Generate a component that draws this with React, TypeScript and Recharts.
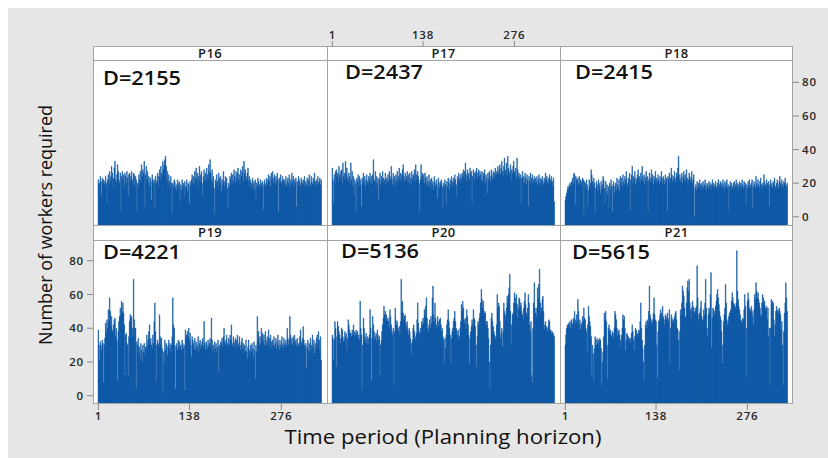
import React from 'react';
import { BarChart, Bar, XAxis, YAxis } from 'recharts';

// ---- categories / ticks / labels ----
const periods: number[] = Array.from({ length: 336 }, (_, i) => i + 1);
const xTicks = [1, 138, 276];
const yTicks = [0, 20, 40, 60, 80];
const panelNames = ['P16', 'P17', 'P18', 'P19', 'P20', 'P21'];
const demandLabels = ['D=2155', 'D=2437', 'D=2415', 'D=4221', 'D=5136', 'D=5615'];

// ---- series values (workers required per period) ----
const p16 = [
  22,19,20,24,21,13,23,20,22,19,21,24,20,8,22,25,19,27,21,24,30,26,18,23,29,33,22,20,
  25,31,27,22,20,26,3,24,27,22,25,18,26,24,20,27,23,12,25,26,21,24,27,22,19,26,25,18,
  24,22,3,20,18,25,22,27,20,31,24,28,26,33,6,25,30,22,27,20,24,18,23,21,10,25,22,20,
  22,5,24,20,21,26,18,24,28,22,30,26,24,33,28,31,34,36,30,22,27,19,25,21,17,24,20,2,
  20,18,22,21,17,19,15,22,20,17,21,9,19,16,22,18,20,12,21,18,17,22,15,20,19,8,21,18,
  22,25,20,24,19,27,23,29,22,26,18,24,30,21,25,27,20,12,24,28,22,26,21,29,25,23,31,27,
  34,26,22,28,20,24,17,2,22,19,25,21,18,26,23,20,24,15,22,19,27,21,18,24,20,23,17,5,
  20,18,24,22,26,19,25,21,28,24,20,27,23,26,29,22,25,19,28,24,27,30,21,33,26,28,24,22,
  26,29,21,24,18,22,20,17,23,19,21,16,22,10,20,18,23,21,19,17,22,20,18,21,4,19,22,18,
  20,23,19,22,25,21,24,18,26,22,27,20,23,25,19,24,21,26,22,3,23,20,25,21,19,24,22,20,
  22,19,24,18,21,23,20,25,17,22,19,26,21,24,18,22,20,23,6,21,19,24,22,20,18,23,21,19,
  22,20,24,18,21,19,23,17,22,25,20,18,24,21,19,23,20,26,21,18,22,19,24,20,21,23,19,22,
];
const p17 = [
  29,22,8,25,20,27,28,24,26,21,30,25,23,27,28,20,32,24,26,22,33,25,29,23,21,26,24,20,
  32,22,27,18,24,13,22,20,3,23,21,25,18,24,22,19,6,23,21,26,20,24,18,22,25,21,19,24,
  22,26,20,24,19,25,34,22,21,27,18,24,20,23,10,22,26,19,24,21,27,23,20,22,26,19,23,21,
  25,21,27,24,22,30,23,19,26,21,24,18,25,22,27,20,24,29,22,26,21,25,28,31,24,21,26,22,
  24,27,21,25,20,26,23,19,27,22,25,24,28,21,31,25,22,27,24,20,3,22,31,24,26,22,25,20,
  26,23,19,24,21,18,25,20,22,17,23,19,21,16,24,20,18,22,19,11,23,20,17,21,19,22,18,5,
  20,17,22,19,8,21,18,23,20,16,22,19,24,21,18,23,20,25,22,19,12,24,21,26,23,20,25,22,
  26,24,28,23,27,32,25,21,28,24,26,22,29,25,27,8,24,28,26,22,27,25,29,23,26,28,24,27,
  25,22,27,21,26,24,28,20,25,23,14,26,22,27,24,21,28,25,23,27,22,26,29,24,27,25,30,26,
  28,31,25,29,33,27,24,30,35,26,28,32,24,36,29,27,25,31,21,28,26,30,33,27,25,29,23,35,
  28,24,26,22,25,8,23,27,21,24,20,26,23,19,25,22,6,24,21,26,20,23,25,19,22,24,20,23,
  21,24,19,22,25,20,23,18,22,24,21,19,23,20,26,22,24,21,19,23,25,22,20,24,21,18,23,9,
];
const p18 = [
  10,12,14,16,18,17,19,20,18,21,19,23,20,26,25,7,24,22,21,23,19,24,20,22,18,21,23,22,
  1,21,20,17,22,19,6,16,22,18,20,28,25,21,18,23,20,2,17,21,19,15,22,20,18,14,21,16,
  19,24,22,17,8,21,15,19,13,18,5,20,16,22,18,3,19,21,14,18,20,16,23,19,17,22,15,24,
  20,23,18,25,21,19,24,22,27,20,18,23,21,26,4,22,25,30,20,24,22,27,19,23,21,25,28,22,
  24,20,26,22,30,24,21,25,19,23,27,21,24,3,22,26,20,23,28,21,25,19,24,22,27,20,23,21,
  25,22,19,24,21,27,23,20,24,22,19,25,21,23,3,24,22,26,20,23,29,25,21,24,22,27,20,23,
  26,24,29,36,22,25,21,23,26,20,24,27,22,25,21,28,23,19,22,26,24,21,23,27,20,22,25,0,
  17,19,16,21,18,20,17,22,19,16,20,18,21,17,19,22,18,16,20,19,17,21,18,20,16,19,22,18,
  20,17,19,21,18,16,20,22,17,19,21,18,20,17,22,19,16,21,18,20,22,17,19,4,18,21,17,20,
  18,16,20,21,17,19,22,18,20,16,19,21,17,20,18,22,19,17,21,18,20,7,19,17,21,18,22,19,
  17,20,22,5,18,21,19,17,24,20,18,22,19,17,21,23,19,16,20,18,25,21,19,17,22,20,18,21,
  6,19,22,18,20,17,21,19,23,18,16,20,22,19,17,21,24,20,18,22,19,17,21,20,23,19,18,20,
];
const p19 = [
  39,30,21,32,30,27,33,31,8,30,34,43,38,45,40,51,44,58,50,41,47,39,37,42,45,46,35,40,
  33,9,38,44,47,52,48,56,50,55,49,42,12,36,37,31,30,12,35,44,48,46,47,40,35,69,45,40,
  40,4,32,30,34,25,29,22,31,27,20,30,26,31,24,29,28,36,30,33,38,42,31,34,30,28,36,31,
  44,55,38,8,30,33,31,29,48,35,30,34,28,3,26,20,33,27,31,29,24,30,33,28,31,26,30,35,
  58,42,40,30,4,29,31,27,33,28,32,29,30,27,33,31,28,30,3,39,34,36,38,35,40,33,37,30,
  23,35,33,31,28,34,27,32,30,29,35,26,31,33,28,30,32,34,29,44,31,27,32,30,28,33,29,31,
  34,29,46,33,27,30,25,32,28,31,26,29,33,14,30,28,32,31,34,29,35,40,32,30,33,36,31,29,
  34,30,36,33,42,31,29,35,32,30,34,28,33,36,31,29,35,30,27,32,34,28,31,25,30,27,33,26,
  22,29,33,27,24,30,26,31,28,23,32,27,10,30,26,47,33,38,30,35,31,40,34,37,32,36,30,38,
  33,30,35,31,39,34,29,36,32,28,33,30,35,29,31,34,28,32,36,30,27,33,29,31,35,30,28,34,
  31,29,33,30,40,34,30,33,47,36,31,34,30,35,32,36,31,33,30,34,29,31,29,35,39,32,30,34,
  41,33,30,28,31,16,29,33,27,31,25,34,30,27,36,29,33,25,31,28,34,36,30,38,33,27,35,21,
];
const p20 = [
  36,34,21,33,44,40,17,35,44,41,38,36,31,34,40,39,35,32,33,38,35,37,27,34,45,42,39,37,
  37,35,39,36,42,38,35,37,39,36,38,34,36,33,56,40,36,3,30,46,40,35,33,37,31,35,30,34,
  36,51,40,9,34,47,42,38,33,35,37,32,39,36,33,35,12,30,33,38,42,46,53,48,50,45,48,44,
  46,44,40,51,47,42,38,36,40,6,38,52,45,42,44,40,38,41,36,44,69,50,56,49,45,47,48,43,
  41,44,39,36,40,38,34,31,24,33,40,42,38,35,33,37,45,55,43,38,36,40,37,44,42,46,43,51,
  47,53,58,46,40,38,42,45,40,47,43,58,65,48,44,55,46,42,40,47,44,41,45,46,42,38,40,35,
  33,19,34,28,36,42,45,51,44,40,36,19,34,38,40,44,46,50,44,40,38,36,39,33,35,40,44,54,
  50,56,52,45,43,46,40,51,47,42,36,19,34,38,41,45,42,51,46,45,41,30,17,35,44,42,46,49,
  55,63,57,52,56,48,50,49,44,42,44,40,34,20,4,30,46,49,44,41,38,36,33,35,42,60,52,55,
  53,44,34,37,40,29,38,55,50,48,45,52,59,55,60,64,72,50,30,42,48,49,55,61,58,55,60,54,
  46,52,58,57,53,55,50,48,45,52,56,61,54,49,47,52,60,55,42,38,44,12,8,40,55,67,52,49,
  47,52,64,58,66,75,55,49,52,57,59,50,39,42,44,41,40,38,41,45,44,38,39,37,38,36,37,35,
];
const p21 = [
  30,36,40,42,41,43,42,44,40,45,43,42,46,44,50,45,42,48,44,57,50,42,45,39,43,41,47,44,
  52,46,45,40,38,26,42,53,47,44,41,35,12,30,25,8,28,35,33,30,34,31,33,30,34,33,28,6,
  20,26,35,49,45,50,44,30,10,40,42,38,39,36,35,38,37,34,40,50,48,45,40,35,38,39,36,33,
  29,36,40,48,45,47,40,27,33,37,36,35,33,34,31,34,37,42,38,33,27,35,40,39,36,37,35,39,
  38,44,55,40,33,28,20,9,30,42,44,40,45,43,50,65,48,46,44,42,45,49,58,48,45,44,30,10,
  38,44,45,48,51,49,46,53,47,45,42,48,47,45,49,46,44,51,19,40,48,46,44,45,43,47,49,50,
  45,40,39,33,15,38,51,48,55,65,62,59,52,47,46,55,64,68,62,69,55,51,46,52,56,53,50,49,
  52,50,53,77,58,45,48,49,52,56,47,45,44,51,48,55,69,52,40,35,48,52,50,60,73,28,46,52,
  51,48,50,53,56,60,63,58,54,50,47,45,38,19,30,44,48,52,66,55,45,42,44,47,49,50,51,56,
  61,58,55,54,53,52,55,86,62,57,53,51,48,45,44,43,46,45,51,60,53,11,40,56,61,57,52,49,
  51,53,50,47,42,51,60,57,67,62,58,61,57,55,52,48,47,55,60,58,54,56,52,50,53,45,52,35,
  40,6,40,57,54,56,55,45,35,42,50,53,50,51,49,52,50,48,39,44,30,6,38,49,55,67,58,50,
];

// ---- layout ----
const FONT = '"Open Sans", "Noto Sans", "DejaVu Sans", sans-serif';
const BLUE = '#0652a3';
const FRAME = '#a3a3a3';
const COL_X = [93, 327, 560];
const COL_W = [234, 233, 233];
const STRIP_Y = [46, 225];
const PLOT_Y = [60, 240];
const PLOT_H = [165, 164];
const Y_DOMAIN: [number, number][] = [[-4.9, 93.3], [-4.9, 92.3]];
const M = 50;

type PanelProps = {
  values: number[];
  col: number;
  row: number;
  yAxis?: 'left' | 'right';
  xAxis?: 'top' | 'bottom';
};

const tickStyle = { fill: '#262626', fontSize: 11.5, fontFamily: FONT, fontWeight: 600, letterSpacing: 0.8 };

function Panel({ values, col, row, yAxis, xAxis }: PanelProps) {
  const x0 = COL_X[col];
  const w = COL_W[col];
  const y0 = PLOT_Y[row];
  const h = PLOT_H[row];
  const dom = Y_DOMAIN[row];
  const data = periods.map((p, i) => ({ p, v: values[i] }));
  const margin = {
    top: xAxis === 'top' ? M - 30 : M,
    bottom: xAxis === 'bottom' ? M - 30 : M,
    left: yAxis === 'left' ? M - 40 : M,
    right: yAxis === 'right' ? M - 40 : M,
  };
  const topTick = (props: any) => {
    const { x, payload } = props;
    return (
      <g>
        <line x1={x} x2={x} y1={M - 19} y2={M - 14} stroke="#8a8a8a" />
        <text x={x} y={M - 21} textAnchor="middle" {...tickStyle}>{payload.value}</text>
      </g>
    );
  };
  return (
    <div style={{ position: 'absolute', left: x0 - M, top: y0 - M }}>
      <BarChart
        width={w + 2 * M}
        height={h + 2 * M}
        data={data}
        margin={margin}
        barCategoryGap={0}
        barGap={0}
      >
        <XAxis
          dataKey="p"
          type="category"
          hide={!xAxis}
          orientation={xAxis === 'top' ? 'top' : 'bottom'}
          height={30}
          ticks={xTicks}
          interval={0}
          padding={{ left: 5, right: 5.5 }}
          axisLine={false}
          tickLine={xAxis === 'top' ? false : { stroke: '#8a8a8a' }}
          tickSize={6}
          tickMargin={2}
          tick={xAxis === 'top' ? topTick : tickStyle}
        />
        <YAxis
          type="number"
          domain={dom}
          allowDataOverflow
          hide={!yAxis}
          orientation={yAxis === 'right' ? 'right' : 'left'}
          width={40}
          ticks={yTicks}
          interval={0}
          axisLine={false}
          tickLine={{ stroke: '#8a8a8a' }}
          tickSize={6}
          tickMargin={3}
          tick={tickStyle}
        />
        <Bar
          dataKey={(d: any) => [dom[0], d.v]}
          fill={BLUE}
          stroke={BLUE}
          strokeWidth={0.45}
          isAnimationActive={false}
        />
      </BarChart>
    </div>
  );
}

export default function App() {
  const dPos = [
    [103, 85], [345, 79], [575, 79],
    [103, 259], [341, 258], [572, 259],
  ];
  const gridLeft = COL_X[0];
  const gridRight = COL_X[2] + COL_W[2];
  return (
    <div style={{ position: 'absolute', left: 0, top: 0, width: 828, height: 458, background: '#ffffff', overflow: 'hidden' }}>
      <div style={{ position: 'absolute', left: 8, top: 8, width: 820, height: 450, background: '#e6e6e6' }} />
      <div style={{ position: 'absolute', left: gridLeft, top: STRIP_Y[0], width: gridRight - gridLeft, height: 404 - STRIP_Y[0], background: '#ffffff' }} />
      <Panel values={p16} col={0} row={0} />
      <Panel values={p17} col={1} row={0} xAxis="top" />
      <Panel values={p18} col={2} row={0} yAxis="right" />
      <Panel values={p19} col={0} row={1} yAxis="left" xAxis="bottom" />
      <Panel values={p20} col={1} row={1} />
      <Panel values={p21} col={2} row={1} xAxis="bottom" />
      <svg width={828} height={458} style={{ position: 'absolute', left: 0, top: 0, pointerEvents: 'none' }}>
        <rect x={gridLeft + 0.5} y={STRIP_Y[0] + 0.5} width={gridRight - gridLeft - 1} height={404 - STRIP_Y[0] - 1} fill="none" stroke={FRAME} />
        <line x1={COL_X[1] + 0.5} x2={COL_X[1] + 0.5} y1={STRIP_Y[0]} y2={404} stroke={FRAME} />
        <line x1={COL_X[2] + 0.5} x2={COL_X[2] + 0.5} y1={STRIP_Y[0]} y2={404} stroke={FRAME} />
        <line x1={gridLeft} x2={gridRight} y1={PLOT_Y[0] + 0.5} y2={PLOT_Y[0] + 0.5} stroke={FRAME} />
        <line x1={gridLeft} x2={gridRight} y1={STRIP_Y[1] + 0.5} y2={STRIP_Y[1] + 0.5} stroke={FRAME} />
        <line x1={gridLeft} x2={gridRight} y1={PLOT_Y[1] + 0.5} y2={PLOT_Y[1] + 0.5} stroke={FRAME} />
        {panelNames.map((name, i) => {
          const col = i % 3;
          const row = Math.floor(i / 3);
          return (
            <text key={name} x={COL_X[col] + COL_W[col] / 2} y={row === 0 ? 57.5 : 237} textAnchor="middle"
              fontFamily={FONT} fontSize={13} fontWeight={600} letterSpacing={0.3} fill="#1a1a1a">{name}</text>
          );
        })}
        {demandLabels.map((lab, i) => (
          <text key={lab} x={dPos[i][0]} y={dPos[i][1]} fontFamily={FONT} fontSize={19.5} fontWeight={600}
            textLength={78} lengthAdjust="spacingAndGlyphs" fill="#111">{lab}</text>
        ))}
        <text x={0} y={0} transform="translate(52,225) rotate(-90)" textAnchor="middle" fontFamily={FONT}
          fontSize={18.5} fontWeight={500} textLength={240} lengthAdjust="spacingAndGlyphs" fill="#111">Number of workers required</text>
        <text x={443} y={444} textAnchor="middle" fontFamily={FONT} fontSize={20.5} fontWeight={500}
          textLength={317} lengthAdjust="spacingAndGlyphs" fill="#111">Time period (Planning horizon)</text>
      </svg>
    </div>
  );
}
